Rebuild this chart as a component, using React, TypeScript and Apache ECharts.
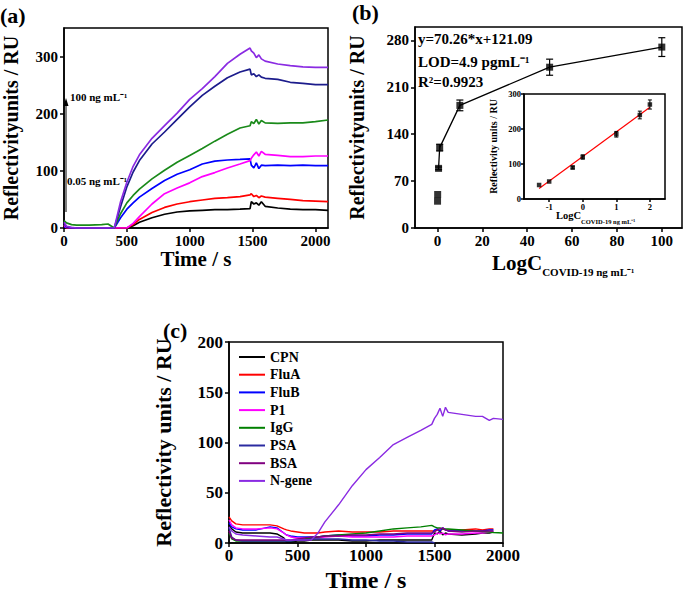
import React, { useEffect, useRef } from 'react';
import * as echarts from 'echarts';

const FONT = "'Liberation Serif', 'Times New Roman', serif";

// ---------- Panel (a): SPR sensorgrams ----------
const timeA = [0, 20, 60, 100, 200, 300, 350, 400, 450, 500, 550, 600, 700, 800, 900, 1000, 1100, 1200, 1300, 1400, 1480, 1490, 1510, 1530, 1550, 1570, 1600, 1700, 1800, 1900, 2000, 2100];
const aPurple = [10, 3, 1, 0, 0, 0, 0, 0, 46, 80, 108, 128, 157, 179, 201, 225, 244, 265, 288, 304, 315, 310, 306, 298, 303, 296, 292, 287, 284, 282, 281, 281];
const aNavy = [8, 2, 0, 0, 0, 0, 0, 0, 37, 72, 98, 118, 147, 168, 190, 212, 232, 248, 263, 273, 278, 268, 270, 265, 268, 264, 262, 260, 255, 253, 251, 251];
const aGreen = [13, 9, 6, 5, 5, 6, 7, 0, 25, 44, 57, 68, 86, 101, 115, 127, 139, 152, 164, 175, 179, 186, 183, 190, 182, 188, 184, 183, 184, 184, 186, 189];
const aBlue = [2, 1, 0, 0, 0, 0, 0, 0, 18, 33, 44, 54, 69, 83, 94, 102, 112, 117, 119, 120, 121, 110, 105, 114, 104, 110, 109, 110, 109, 110, 109, 109];
const aMagenta = [5, 1, 0, 0, 0, 0, 0, 0, 0, 0, 8, 20, 42, 60, 70, 79, 90, 97, 105, 112, 118, 122, 128, 133, 126, 134, 129, 127, 125, 125, 126, 126];
const aRed = [3, 0, 0, 0, 0, 0, 0, 0, 0, 0, 6, 15, 27, 36, 42, 46, 49, 52, 53, 55, 58, 60, 55, 57, 53, 56, 54, 52, 50, 48, 47, 46];
const aBlack = [0, 0, 0, 0, 0, 0, 0, 0, 0, 0, 4, 10, 18, 24, 28, 30, 31, 32, 32, 33, 34, 46, 42, 44, 40, 46, 38, 35, 33, 32, 32, 31];
const aTicksX = [0, 500, 1000, 1500, 2000];
const aTicksY = [0, 100, 200, 300];

// ---------- Panel (b): calibration ----------
const concentrations = [0.05, 0.1, 0.5, 1, 10, 50, 100];
const responses = [40, 50, 89, 120, 183, 240, 270];
const responseErr = [0, 0, 2, 5, 8, 12, 14];
const bTicksX = [0, 20, 40, 60, 80, 100];
const bTicksY = [0, 70, 140, 210, 280];

// inset
const logConc = [-1.3, -1, -0.3, 0, 1, 1.7, 2];
const insetResp = [40, 50, 90, 120, 185, 240, 270];
const insetErr = [0, 0, 4, 6, 8, 11, 13];
const fitX = [-1.3, 2];
const fitY = [30, 262];
const insetTicksX = [-1, 0, 1, 2];
const insetTicksY = [0, 100, 200, 300];

// ---------- Panel (c): selectivity ----------
const timeC = [0, 20, 50, 100, 200, 300, 350, 400, 420, 450, 500, 550, 600, 650, 700, 800, 900, 1000, 1100, 1200, 1300, 1400, 1480, 1500, 1520, 1540, 1560, 1580, 1600, 1700, 1800, 1850, 1900, 1930, 2000];
const cCPN = [18, 14, 11, 10, 10, 10, 9, 5, 1, 1, 2, 2, 3, 3, 3, 3, 2, 2, 3, 3, 3, 3, 3, 10, 9, 12, 8, 10, 9, 8, 9, 10, 10, 11, null];
const cFluA = [26, 22, 19, 18, 18, 18, 17, 14, 13, 12, 11, 10, 10, 10, 11, 12, 11, 11, 11, 12, 12, 12, 12, 12, 13, 12, 14, 13, 13, 13, 14, 13, 14, 14, null];
const cFluB = [20, 16, 14, 13, 13, 16, 15, 10, 8, 7, 6, 6, 6, 6, 7, 8, 7, 7, 8, 8, 9, 9, 9, 13, 14, 12, 15, 13, 12, 12, 12, 12, 13, 13, null];
const cP1 = [23, 18, 15, 14, 14, 15, 14, 10, 8, 6, 5, 5, 5, 5, 6, 7, 6, 6, 6, 6, 7, 7, 7, 8, 10, 9, 10, 8, 9, 9, 10, 10, 11, 11, null];
const cIgG = [10, 4, 2, 2, 2, 2, 2, 2, 2, 2, 3, 4, 5, 6, 7, 8, 9, 10, 12, 14, 15, 16, 17.5, 16, 15, 15, 14, 14, 14, 13, 12, 11.5, 11, 10.5, 10];
const cPSA = [15, 6, 3, 2, 2, 2, 2, 2, 2, 2, 3, 3, 4, 4, 4, 4, 3, 3, 2, 2, 1, 1, 1, 0, null, null, null, null, null, null, null, null, null, null, null];
const cBSA = [12, 5, 3, 3, 3, 3, 3, 3, 3, 3, 4, 5, 6, 6, 7, 7, 8, 8, 9, 9, 10, 10, 10, 11, 13, 14, 15, 13, 12, 11, 12, 12, 12, 12, null];
const cNgene = [16, 12, 9, 8, 7, 6, 6, 4, 3, 3, 3, 3, 3, 10, 21, 38, 57, 73, 85, 98, 105, 112, 118, 124, 128, 134, 126, 135, 130, 128, 126, 126, 122, 124, 123];
const cNames = ['CPN', 'FluA', 'FluB', 'P1', 'IgG', 'PSA', 'BSA', 'N-gene'];
const cTicksX = [0, 500, 1000, 1500, 2000];
const cTicksY = [0, 50, 100, 150, 200];

function axis(gridIndex: number, min: number, max: number, ticks: number[], fontSize: number, extra: any = {}) {
  return {
    type: 'value',
    gridIndex,
    min,
    max,
    axisLine: { show: true, onZero: false, lineStyle: { color: '#000', width: 1.5 } },
    axisTick: { show: true, length: extra.tickLen ?? 4, customValues: ticks, lineStyle: { color: '#000', width: 1.5 } },
    axisLabel: {
      customValues: ticks,
      formatter: (v: number) => String(v),
      color: '#000',
      fontFamily: FONT,
      fontWeight: 'bold',
      fontSize,
      margin: extra.margin ?? 6,
    },
    splitLine: { show: false },
  };
}

function lineSeries(name: string, xs: number[], ys: (number | null)[], color: string, xi: number, width = 1.7) {
  return {
    name,
    type: 'line',
    xAxisIndex: xi,
    yAxisIndex: xi,
    data: xs.map((x, i) => [x, ys[i]]),
    symbol: 'none',
    showSymbol: false,
    connectNulls: false,
    lineStyle: { color, width },
    itemStyle: { color },
    z: 2,
  };
}

function errorSeries(xs: number[], ys: number[], es: number[], idx: number, cap: number, width: number) {
  return {
    type: 'custom',
    xAxisIndex: idx,
    yAxisIndex: idx,
    data: xs.map((x, i) => [x, ys[i], es[i]]),
    silent: true,
    z: 4,
    renderItem: (params: any, api: any) => {
      const x = api.value(0);
      const y = api.value(1);
      const e = api.value(2);
      if (!e) return { type: 'group', children: [] };
      const hi = api.coord([x, y + e]);
      const lo = api.coord([x, y - e]);
      const style = { stroke: '#000', lineWidth: width };
      return {
        type: 'group',
        children: [
          { type: 'line', shape: { x1: hi[0], y1: hi[1], x2: lo[0], y2: lo[1] }, style },
          { type: 'line', shape: { x1: hi[0] - cap, y1: hi[1], x2: hi[0] + cap, y2: hi[1] }, style },
          { type: 'line', shape: { x1: lo[0] - cap, y1: lo[1], x2: lo[0] + cap, y2: lo[1] }, style },
        ],
      };
    },
  };
}

function txt(text: string, x: number, y: number, fontSize: number, extra: any = {}) {
  return {
    type: 'text',
    x,
    y,
    z: 10,
    style: {
      text,
      fill: '#000',
      fontFamily: FONT,
      fontWeight: 'bold',
      fontSize,
      verticalAlign: 'middle',
      align: 'left',
      ...extra,
    },
  };
}

const nameStyle = (fontSize: number, extra: any = {}) => ({ fontFamily: FONT, fontWeight: 'bold', fontSize, color: '#000', ...extra });

const gridBox = { show: true, borderColor: '#000', borderWidth: 1.5, containLabel: false };

const option: any = {
  animation: false,
  backgroundColor: '#fff',
  textStyle: { fontFamily: FONT },
  grid: [
    { ...gridBox, left: 60, top: 28, width: 268, height: 200 },
    { ...gridBox, left: 415, top: 27, width: 267, height: 201 },
    { ...gridBox, left: 524, top: 94, width: 141, height: 105, backgroundColor: '#fff', z: 5 },
    { ...gridBox, left: 229, top: 342, width: 274, height: 202 },
  ],
  xAxis: [
    { ...axis(0, 0, 2100, aTicksX, 15, { margin: 5 }), name: 'Time / s', nameLocation: 'middle', nameGap: 19, nameTextStyle: nameStyle(21, { verticalAlign: 'top' }) },
    axis(1, -10, 109, bTicksX, 15, { margin: 5 }),
    { ...axis(2, -1.75, 2.45, insetTicksX, 8.5, { margin: 3, tickLen: 3 }), z: 6 },
    { ...axis(3, 0, 2000, cTicksX, 17, { margin: 4 }), name: 'Time / s', nameLocation: 'middle', nameGap: 25, nameTextStyle: nameStyle(24, { verticalAlign: 'top' }) },
  ],
  yAxis: [
    { ...axis(0, 0, 350, aTicksY, 15), name: 'Reflectivityunits / RU', nameLocation: 'middle', nameGap: 43, nameTextStyle: nameStyle(20) },
    { ...axis(1, 0, 300, bTicksY, 15), name: 'Reflectivityunits / RU', nameLocation: 'middle', nameGap: 48, nameTextStyle: nameStyle(20) },
    { ...axis(2, 0, 300, insetTicksY, 8.5, { margin: 3, tickLen: 3 }), z: 6, name: 'Reflectivity units / RU', nameLocation: 'middle', nameGap: 26, nameTextStyle: nameStyle(10) },
    { ...axis(3, 0, 200, cTicksY, 17), name: 'Reflectivity units / RU', nameLocation: 'middle', nameGap: 55, nameTextStyle: nameStyle(22) },
  ],
  legend: {
    data: cNames,
    orient: 'vertical',
    left: 238,
    top: 350,
    padding: 0,
    itemWidth: 26,
    itemHeight: 10,
    itemGap: 3.7,
    itemStyle: { opacity: 0 },
    textStyle: { fontFamily: FONT, fontWeight: 'bold', fontSize: 14, color: '#000' },
  },
  series: [
    lineSeries('a-black', timeA, aBlack, '#000000', 0),
    lineSeries('a-red', timeA, aRed, '#ff0000', 0),
    lineSeries('a-blue', timeA, aBlue, '#0000ff', 0),
    lineSeries('a-magenta', timeA, aMagenta, '#ff00ff', 0),
    lineSeries('a-green', timeA, aGreen, '#1a8a1a', 0),
    lineSeries('a-navy', timeA, aNavy, '#1c1c8c', 0),
    lineSeries('a-purple', timeA, aPurple, '#8a2be2', 0),

    {
      name: 'b-line',
      type: 'line',
      xAxisIndex: 1,
      yAxisIndex: 1,
      data: concentrations.slice(2).map((c, i) => [c, responses[i + 2]]),
      symbol: 'none',
      lineStyle: { color: '#000', width: 1.3 },
      z: 3,
    },
    {
      name: 'b-points',
      type: 'scatter',
      xAxisIndex: 1,
      yAxisIndex: 1,
      data: concentrations.map((c, i) => [c, responses[i]]),
      symbol: 'rect',
      symbolSize: 7,
      itemStyle: { color: '#000' },
      z: 4,
    },
    errorSeries(concentrations, responses, responseErr, 1, 3.5, 1.2),

    {
      name: 'fit',
      type: 'line',
      xAxisIndex: 2,
      yAxisIndex: 2,
      data: fitX.map((x, i) => [x, fitY[i]]),
      symbol: 'none',
      lineStyle: { color: '#ff0000', width: 1.2 },
      z: 6,
    },
    {
      name: 'inset-pts',
      type: 'scatter',
      xAxisIndex: 2,
      yAxisIndex: 2,
      data: logConc.map((x, i) => [x, insetResp[i]]),
      symbol: 'rect',
      symbolSize: 4.5,
      itemStyle: { color: '#000' },
      z: 7,
    },
    { ...errorSeries(logConc, insetResp, insetErr, 2, 2, 1), z: 7 },

    lineSeries('CPN', timeC, cCPN, '#000000', 3, 1.4),
    lineSeries('FluA', timeC, cFluA, '#ff0000', 3, 1.4),
    lineSeries('FluB', timeC, cFluB, '#0000ff', 3, 1.4),
    lineSeries('P1', timeC, cP1, '#ff00ff', 3, 1.4),
    lineSeries('IgG', timeC, cIgG, '#008000', 3, 1.4),
    lineSeries('PSA', timeC, cPSA, '#2b2ba0', 3, 1.4),
    lineSeries('BSA', timeC, cBSA, '#800080', 3, 1.4),
    lineSeries('N-gene', timeC, cNgene, '#8a2be2', 3, 1.4),
  ],
  graphic: [
    txt('(a)', 0, 15, 22),
    txt('(b)', 352, 12, 22),
    txt('(c)', 163, 330, 22),
    {
      type: 'line',
      z: 10,
      shape: { x1: 66, y1: 212, x2: 66, y2: 104 },
      style: { stroke: '#000', lineWidth: 1 },
    },
    {
      type: 'polygon',
      z: 10,
      shape: { points: [[63.5, 106], [66, 98], [68.5, 106]] },
      style: { fill: '#000' },
    },
    txt('100 ng mL⁻¹', 70, 97, 11),
    txt('0.05 ng mL⁻¹', 67, 181, 11),
    txt('y=70.26*x+121.09', 418, 39, 15),
    txt('LOD=4.9 pgmL⁻¹', 418, 62, 15),
    txt('R²=0.9923', 418, 82, 15),
    {
      type: 'text',
      x: 492,
      y: 263,
      z: 10,
      style: {
        text: '{m|LogC}{s|COVID-19 ng mL⁻¹}',
        verticalAlign: 'middle',
        rich: {
          m: { fontFamily: FONT, fontWeight: 'bold', fontSize: 21, fill: '#000' },
          s: { fontFamily: FONT, fontWeight: 'bold', fontSize: 11, fill: '#000', padding: [18, 0, 0, 0] },
        },
      },
    },
    {
      type: 'text',
      x: 556,
      y: 215,
      z: 10,
      style: {
        text: '{m|LogC}{s|COVID-19 ng mL⁻¹}',
        verticalAlign: 'middle',
        rich: {
          m: { fontFamily: FONT, fontWeight: 'bold', fontSize: 10.5, fill: '#000' },
          s: { fontFamily: FONT, fontWeight: 'bold', fontSize: 6.5, fill: '#000', padding: [12, 0, 0, 0] },
        },
      },
    },
  ],
};

export default function App() {
  const ref = useRef<HTMLDivElement>(null);
  useEffect(() => {
    document.body.style.margin = '0';
    const chart = echarts.init(ref.current as HTMLDivElement, null, { renderer: 'svg', width: 685, height: 593 });
    chart.setOption(option);
    return () => chart.dispose();
  }, []);
  return <div ref={ref} style={{ width: 685, height: 593 }} />;
}
